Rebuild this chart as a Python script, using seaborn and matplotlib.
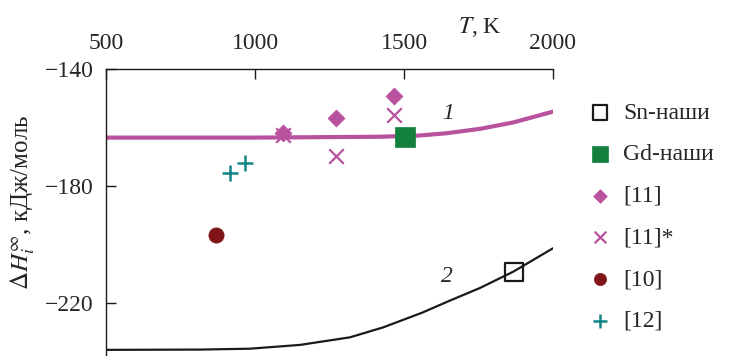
import numpy as np
import pandas as pd
import matplotlib
matplotlib.use("Agg")
import matplotlib.pyplot as plt
import seaborn as sns

# ---- data ----
curve1_T = [500, 1000, 1419, 1550, 1643, 1755, 1867, 2000]
curve1_H = [-163.5, -163.5, -163.2, -162.8, -162.0, -160.5, -158.3, -154.6]
curve2_T = [500, 815, 983, 1151, 1319, 1430, 1560, 1650, 1755, 1867, 2000]
curve2_H = [-236.2, -236.1, -235.8, -234.5, -231.9, -228.5, -223.5, -219.5, -215.0, -209.4, -201.4]

sn_T, sn_H = [1868], [-209.4]
gd_T, gd_H = [1504], [-163.2]
ref11_T, ref11_H = [1093, 1272, 1465], [-162.0, -156.7, -149.2]
ref11s_T, ref11s_H = [1095, 1272, 1465], [-162.6, -169.8, -155.8]
ref10_T, ref10_H = [869], [-197.0]
ref12_T, ref12_H = [916, 966], [-175.7, -172.3]

legend_labels = ["Sn-наши", "Gd-наши", "[11]", "[11]*", "[10]", "[12]"]
x_ticks = [500, 1000, 1500, 2000]
y_ticks = [-140, -180, -220]

MAG = "#B8529F"
GREEN = "#13803E"
DRED = "#7F1518"
TEAL = "#138585"

sns.set_style("ticks")
plt.rcParams["font.family"] = ["Liberation Serif", "DejaVu Serif"]
plt.rcParams["mathtext.fontset"] = "stix"
plt.rcParams["axes.unicode_minus"] = True

fig = plt.figure(figsize=(7.36, 3.56), dpi=100)
ax = fig.add_axes([106 / 736, 0.0, (553 - 106) / 736, 1 - 69 / 356])

sns.lineplot(x=curve1_T, y=curve1_H, ax=ax, color=MAG, linewidth=3.0, legend=False)
sns.lineplot(x=curve2_T, y=curve2_H, ax=ax, color="#1a1a1a", linewidth=1.6, legend=False)

sns.scatterplot(x=sn_T, y=sn_H, ax=ax, marker="s", s=170, facecolor="none",
                edgecolor="#1a1a1a", linewidth=1.6, zorder=4, label=legend_labels[0])
sns.scatterplot(x=gd_T, y=gd_H, ax=ax, marker="s", s=210, color=GREEN,
                edgecolor=GREEN, linewidth=0.5, zorder=4, label=legend_labels[1])
sns.scatterplot(x=ref11_T, y=ref11_H, ax=ax, marker="D", s=75, color=MAG,
                edgecolor=MAG, linewidth=0.5, zorder=4, label=legend_labels[2])
sns.scatterplot(x=ref11s_T, y=ref11s_H, ax=ax, marker="x", s=110, color=MAG,
                linewidth=1.6, zorder=4, label=legend_labels[3])
sns.scatterplot(x=ref10_T, y=ref10_H, ax=ax, marker="o", s=120, color=DRED,
                edgecolor=DRED, linewidth=0.5, zorder=4, label=legend_labels[4])
sns.scatterplot(x=ref12_T, y=ref12_H, ax=ax, marker="+", s=140, color=TEAL,
                linewidth=1.8, zorder=4, label=legend_labels[5])

ax.set_xlim(500, 2000)
ax.set_ylim(-238.3, -140)
ax.set_xticks(x_ticks)
ax.set_yticks(y_ticks)
ax.xaxis.tick_top()
ax.xaxis.set_label_position("top")
ax.tick_params(direction="in", length=7, width=1.0, labelsize=17, color="#1a1a1a")
ax.tick_params(axis="x", pad=11)
ax.tick_params(axis="y", pad=9)
for sp in ["bottom", "right"]:
    ax.spines[sp].set_visible(False)
for sp in ["top", "left"]:
    ax.spines[sp].set_linewidth(1.0)
    ax.spines[sp].set_color("#1a1a1a")

ax.set_xlabel(r"$T$, K", fontsize=17)
ax.xaxis.set_label_coords(0.837, 1.125)
ax.set_ylabel(r"$\Delta H_i^{\infty}$, кДж/моль", fontsize=18)
ax.yaxis.set_label_coords(-0.155, 0.535)

ax.text(1648, -155.4, "1", fontsize=17, style="italic", ha="center", va="center")
ax.text(1645, -210.9, "2", fontsize=17, style="italic", ha="center", va="center")

handles, labels = ax.get_legend_handles_labels()
order = [labels.index(l) for l in legend_labels]
ax.legend([handles[i] for i in order], [labels[i] for i in order],
          loc="upper left", bbox_to_anchor=(567 / 736, 1 - 81 / 356),
          bbox_transform=fig.transFigure, frameon=False, fontsize=17,
          handlelength=1.0, handletextpad=0.47, labelspacing=0.85,
          borderpad=0.4, markerscale=0.8)

fig.savefig("out.png", dpi=100)
